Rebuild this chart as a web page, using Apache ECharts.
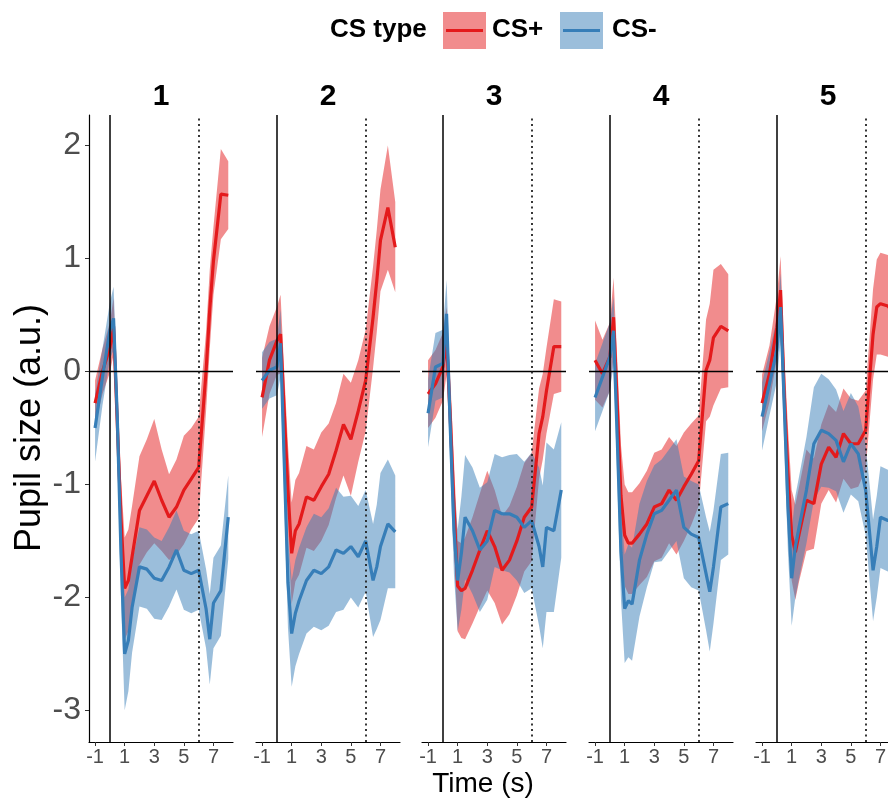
<!DOCTYPE html>
<html><head><meta charset="utf-8">
<script src="https://cdn.jsdelivr.net/npm/echarts@6/dist/echarts.min.js"></script>
<style>html,body{margin:0;padding:0;background:#fff;overflow:hidden}#c{width:904px;height:799px}</style>
</head><body><div id="c"></div>
<script>
// ---- data ----
const TIME = [-1, -0.5, 0, 0.25, 0.5, 0.75, 1, 1.25, 1.5, 2, 2.5, 3, 3.5, 4, 4.5, 5, 5.5, 6, 6.5, 6.75, 7, 7.5, 8];
const PANELS = ['1', '2', '3', '4', '5'];
const X_TICKS = [-1, 1, 3, 5, 7];
const Y_TICKS = [-3, -2, -1, 0, 1, 2];
const SERIES_NAMES = ['CS+', 'CS-'];

const P1_CSP_MEAN = [-0.28, 0.0, 0.21, 0.40, -0.46, -1.3, -1.92, -1.85, -1.64, -1.23, -1.10, -0.97, -1.14, -1.29, -1.20, -1.05, -0.95, -0.85, 0.0, 0.55, 0.98, 1.57, 1.56];
const P1_CSP_SE   = [0.2, 0.2, 0.22, 0.25, 0.3, 0.35, 0.45, 0.45, 0.45, 0.48, 0.5, 0.55, 0.45, 0.38, 0.42, 0.48, 0.45, 0.45, 0.35, 0.35, 0.3, 0.4, 0.3];
const P1_CSM_MEAN = [-0.5, -0.05, 0.36, 0.47, -0.4, -1.6, -2.5, -2.38, -2.09, -1.73, -1.75, -1.83, -1.85, -1.73, -1.58, -1.76, -1.79, -1.76, -2.1, -2.37, -2.05, -1.94, -1.29];
const P1_CSM_SE   = [0.3, 0.25, 0.25, 0.28, 0.3, 0.4, 0.5, 0.45, 0.4, 0.35, 0.35, 0.36, 0.35, 0.35, 0.35, 0.35, 0.35, 0.35, 0.35, 0.4, 0.4, 0.4, 0.37];

const P2_CSP_MEAN = [-0.23, 0.10, 0.27, 0.33, -0.36, -1.05, -1.61, -1.41, -1.35, -1.11, -1.14, -1.02, -0.91, -0.70, -0.47, -0.60, -0.35, -0.08, 0.48, 0.80, 1.16, 1.45, 1.10];
const P2_CSP_SE   = [0.35, 0.3, 0.3, 0.35, 0.35, 0.4, 0.45, 0.45, 0.45, 0.45, 0.45, 0.48, 0.45, 0.42, 0.45, 0.5, 0.45, 0.45, 0.45, 0.45, 0.45, 0.55, 0.4];
const P2_CSM_MEAN = [-0.08, 0.01, 0.04, 0.25, -0.81, -1.87, -2.32, -2.14, -2.03, -1.85, -1.76, -1.79, -1.73, -1.58, -1.61, -1.55, -1.64, -1.50, -1.85, -1.73, -1.55, -1.35, -1.42];
const P2_CSM_SE   = [0.25, 0.25, 0.25, 0.3, 0.35, 0.4, 0.47, 0.47, 0.47, 0.47, 0.5, 0.5, 0.52, 0.55, 0.5, 0.45, 0.45, 0.45, 0.5, 0.55, 0.65, 0.57, 0.5];

const P3_CSP_MEAN = [-0.20, -0.11, 0.04, 0.27, -0.4, -1.2, -1.90, -1.94, -1.92, -1.76, -1.58, -1.41, -1.55, -1.76, -1.67, -1.50, -1.29, -1.20, -0.55, -0.4, -0.17, 0.22, 0.22];
const P3_CSP_SE   = [0.3, 0.3, 0.3, 0.3, 0.35, 0.4, 0.4, 0.42, 0.45, 0.47, 0.5, 0.53, 0.5, 0.48, 0.48, 0.48, 0.48, 0.48, 0.4, 0.38, 0.38, 0.42, 0.4];
const P3_CSM_MEAN = [-0.37, 0.04, 0.07, 0.51, -0.5, -1.4, -1.85, -1.61, -1.29, -1.41, -1.58, -1.50, -1.23, -1.26, -1.26, -1.29, -1.38, -1.32, -1.55, -1.73, -1.38, -1.41, -1.05];
const P3_CSM_SE   = [0.3, 0.3, 0.3, 0.3, 0.35, 0.4, 0.45, 0.5, 0.55, 0.56, 0.55, 0.52, 0.5, 0.5, 0.52, 0.56, 0.58, 0.6, 0.7, 0.72, 0.75, 0.72, 0.6];

const P4_CSP_MEAN = [0.10, -0.02, 0.13, 0.48, -0.3, -1.1, -1.45, -1.52, -1.52, -1.44, -1.35, -1.20, -1.17, -1.05, -1.14, -1.02, -0.91, -0.79, 0.01, 0.1, 0.3, 0.4, 0.36];
const P4_CSP_SE   = [0.35, 0.3, 0.3, 0.35, 0.4, 0.45, 0.45, 0.45, 0.45, 0.45, 0.47, 0.48, 0.48, 0.47, 0.48, 0.48, 0.45, 0.4, 0.45, 0.5, 0.6, 0.55, 0.5];
const P4_CSM_MEAN = [-0.23, -0.05, 0.13, 0.36, -0.6, -1.6, -2.10, -2.03, -2.06, -1.67, -1.44, -1.26, -1.23, -1.14, -1.05, -1.38, -1.44, -1.47, -1.79, -1.95, -1.73, -1.20, -1.17];
const P4_CSM_SE   = [0.3, 0.3, 0.3, 0.3, 0.35, 0.42, 0.48, 0.5, 0.5, 0.5, 0.47, 0.43, 0.45, 0.45, 0.45, 0.45, 0.47, 0.47, 0.5, 0.53, 0.5, 0.47, 0.45];

const P5_CSP_MEAN = [-0.28, -0.02, 0.39, 0.72, -0.2, -0.9, -1.45, -1.6, -1.44, -1.14, -1.17, -0.82, -0.67, -0.76, -0.55, -0.64, -0.64, -0.52, 0.33, 0.57, 0.60, 0.58, 0.5];
const P5_CSP_SE   = [0.25, 0.25, 0.28, 0.3, 0.35, 0.4, 0.4, 0.42, 0.42, 0.45, 0.4, 0.35, 0.38, 0.4, 0.4, 0.4, 0.38, 0.35, 0.4, 0.42, 0.45, 0.45, 0.45];
const P5_CSM_MEAN = [-0.40, -0.11, 0.19, 0.57, -0.3, -1.2, -1.83, -1.55, -1.38, -1.05, -0.64, -0.52, -0.55, -0.61, -0.8, -0.64, -0.73, -1.05, -1.76, -1.55, -1.29, -1.32, -1.3];
const P5_CSM_SE   = [0.3, 0.28, 0.28, 0.3, 0.35, 0.4, 0.42, 0.45, 0.45, 0.47, 0.5, 0.5, 0.48, 0.45, 0.45, 0.45, 0.42, 0.4, 0.45, 0.45, 0.45, 0.45, 0.45];

const ONSET = 0;      // CS onset (s)
const OFFSET = 6;     // CS offset (s)

// ---- layout / style ----
const PANEL_DATA = [
  [P1_CSP_MEAN, P1_CSP_SE, P1_CSM_MEAN, P1_CSM_SE],
  [P2_CSP_MEAN, P2_CSP_SE, P2_CSM_MEAN, P2_CSM_SE],
  [P3_CSP_MEAN, P3_CSP_SE, P3_CSM_MEAN, P3_CSM_SE],
  [P4_CSP_MEAN, P4_CSP_SE, P4_CSM_MEAN, P4_CSM_SE],
  [P5_CSP_MEAN, P5_CSP_SE, P5_CSM_MEAN, P5_CSM_SE]
];
const FONT = 'Liberation Sans, Arial, sans-serif';
const RED = '#E41A1C', BLUE = '#377EB8';
const RED_FILL = 'rgba(228,26,28,0.5)', BLUE_FILL = 'rgba(55,126,184,0.5)';
const LEFTS = [89, 256, 422, 589, 756];
const TOP = 115, H = 627, W = 144;
const XMIN = -1.41, XMAX = 8.32, YMIN = -3.28, YMAX = 2.27;

function makeBand(mean, se, fill) {
  return function (params, api) {
    const up = TIME.map((t, k) => api.coord([t, mean[k] + se[k]]));
    const lo = TIME.map((t, k) => api.coord([t, mean[k] - se[k]])).reverse();
    return { type: 'polygon', shape: { points: up.concat(lo) }, style: { fill: fill } };
  };
}

const grids = [], xAxes = [], yAxes = [], series = [], graphics = [];
PANELS.forEach((p, i) => {
  grids.push({ left: LEFTS[i], top: TOP, width: W, height: H });
  xAxes.push({
    gridIndex: i, type: 'value', min: XMIN, max: XMAX,
    axisLine: { show: true, onZero: false, lineStyle: { color: '#000', width: 1.2 } },
    axisTick: { show: true, customValues: X_TICKS, length: 4, lineStyle: { color: '#333', width: 1 } },
    axisLabel: { customValues: X_TICKS, color: '#4d4d4d', fontSize: 20, margin: 5, fontFamily: FONT },
    splitLine: { show: false }
  });
  yAxes.push(i === 0 ? {
    gridIndex: i, type: 'value', min: YMIN, max: YMAX,
    axisLine: { show: true, onZero: false, lineStyle: { color: '#000', width: 1.2 } },
    axisTick: { show: true, customValues: Y_TICKS, length: 4, lineStyle: { color: '#333', width: 1 } },
    axisLabel: { customValues: Y_TICKS, color: '#4d4d4d', fontSize: 32, margin: 8, fontFamily: FONT },
    splitLine: { show: false }
  } : {
    gridIndex: i, type: 'value', min: YMIN, max: YMAX, show: false, splitLine: { show: false }
  });
  const [pm, ps, mm, ms] = PANEL_DATA[i];
  series.push({
    type: 'line', xAxisIndex: i, yAxisIndex: i, data: [], silent: true, z: 1,
    markLine: {
      symbol: 'none', silent: true, animation: false, label: { show: false },
      data: [
        { yAxis: 0, lineStyle: { color: '#000', width: 1.3, type: 'solid' } },
        { xAxis: ONSET, lineStyle: { color: '#000', width: 1.5, type: 'solid' } },
        { xAxis: OFFSET, lineStyle: { color: '#222', width: 1.8, type: [2, 3.5] } }
      ]
    }
  });
  series.push({ type: 'custom', name: SERIES_NAMES[0], xAxisIndex: i, yAxisIndex: i, data: [[0, 0]], z: 2, silent: true, renderItem: makeBand(pm, ps, RED_FILL) });
  series.push({ type: 'custom', name: SERIES_NAMES[1], xAxisIndex: i, yAxisIndex: i, data: [[0, 0]], z: 2, silent: true, renderItem: makeBand(mm, ms, BLUE_FILL) });
  series.push({ type: 'line', name: SERIES_NAMES[0], xAxisIndex: i, yAxisIndex: i, z: 3, silent: true, showSymbol: false, symbol: 'none',
    data: TIME.map((t, k) => [t, pm[k]]), lineStyle: { color: RED, width: 3.2 } });
  series.push({ type: 'line', name: SERIES_NAMES[1], xAxisIndex: i, yAxisIndex: i, z: 4, silent: true, showSymbol: false, symbol: 'none',
    data: TIME.map((t, k) => [t, mm[k]]), lineStyle: { color: BLUE, width: 3.2 } });
  graphics.push({ type: 'text', x: LEFTS[i] + W / 2, y: 97,
    style: { text: p, font: 'bold 30px ' + FONT, fill: '#000', align: 'center', verticalAlign: 'middle' } });
});

// axis titles
graphics.push({ type: 'text', x: 30, y: 428, rotation: Math.PI / 2,
  style: { text: 'Pupil size (a.u.)', font: '36px ' + FONT, fill: '#000', align: 'center', verticalAlign: 'middle' } });
graphics.push({ type: 'text', x: 483, y: 784,
  style: { text: 'Time (s)', font: '28px ' + FONT, fill: '#000', align: 'center', verticalAlign: 'middle' } });

// legend
graphics.push({ type: 'text', x: 330, y: 30, style: { text: 'CS type', font: 'bold 26px ' + FONT, fill: '#000', align: 'left', verticalAlign: 'middle' } });
graphics.push({ type: 'rect', shape: { x: 443, y: 12, width: 43, height: 37 }, style: { fill: RED_FILL } });
graphics.push({ type: 'line', shape: { x1: 446, y1: 30.5, x2: 483, y2: 30.5 }, style: { stroke: RED, lineWidth: 3 } });
graphics.push({ type: 'text', x: 492, y: 30, style: { text: SERIES_NAMES[0], font: 'bold 26px ' + FONT, fill: '#000', align: 'left', verticalAlign: 'middle' } });
graphics.push({ type: 'rect', shape: { x: 560, y: 12, width: 43, height: 37 }, style: { fill: BLUE_FILL } });
graphics.push({ type: 'line', shape: { x1: 563, y1: 30.5, x2: 600, y2: 30.5 }, style: { stroke: BLUE, lineWidth: 3 } });
graphics.push({ type: 'text', x: 612, y: 30, style: { text: SERIES_NAMES[1], font: 'bold 26px ' + FONT, fill: '#000', align: 'left', verticalAlign: 'middle' } });

const chart = echarts.init(document.getElementById('c'), null, { renderer: 'canvas' });
chart.setOption({
  animation: false,
  backgroundColor: '#fff',
  grid: grids, xAxis: xAxes, yAxis: yAxes, series: series, graphic: graphics
});
</script></body></html>
